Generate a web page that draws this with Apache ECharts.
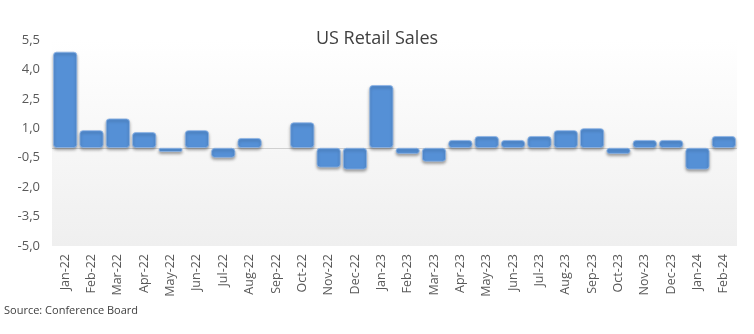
<!DOCTYPE html>
<html>
<head>
<meta charset="utf-8">
<style>
html,body{margin:0;padding:0;background:#fff;}
#c{width:754px;height:334px;}
</style>
<script src="https://cdn.jsdelivr.net/npm/echarts@6/dist/echarts.min.js"></script>
</head>
<body>
<div id="c"></div>
<script>
var categories = ["Jan-22","Feb-22","Mar-22","Apr-22","May-22","Jun-22","Jul-22","Aug-22","Sep-22","Oct-22","Nov-22","Dec-22","Jan-23","Feb-23","Mar-23","Apr-23","May-23","Jun-23","Jul-23","Aug-23","Sep-23","Oct-23","Nov-23","Dec-23","Jan-24","Feb-24"];
var values = [4.9, 0.9, 1.5, 0.8, -0.2, 0.9, -0.5, 0.5, 0, 1.3, -1.0, -1.1, 3.2, -0.3, -0.7, 0.4, 0.6, 0.4, 0.6, 0.9, 1.0, -0.3, 0.4, 0.4, -1.1, 0.6];
var yTicks = {min: -5.0, max: 5.5, interval: 1.5};
var titleText = "US Retail Sales";
var sourceText = "Source: Conference Board";

var chart = echarts.init(document.getElementById('c'), null, {renderer: 'canvas'});
var font = "'Open Sans', 'Liberation Sans', sans-serif";
var barData = values.map(function (v) {
  return v === 0 ? {value: v, itemStyle: {opacity: 0}} : v;
});
chart.setOption({
  animation: false,
  backgroundColor: '#ffffff',
  title: {
    text: titleText,
    left: 'center',
    top: 25,
    textStyle: {fontFamily: font, fontSize: 18, fontWeight: 'normal', color: '#404040'}
  },
  graphic: [{
    type: 'text',
    left: 4,
    top: 305,
    style: {text: sourceText, font: "11px " + font, fill: '#404040'}
  }],
  grid: {
    left: 52, right: 17, top: 40, bottom: 88,
    show: true,
    borderWidth: 0,
    backgroundColor: new echarts.graphic.LinearGradient(0, 0, 0, 1, [
      {offset: 0, color: '#ffffff'},
      {offset: 1, color: '#efefef'}
    ])
  },
  xAxis: {
    type: 'category',
    data: categories,
    position: 'bottom',
    axisLine: {show: false, onZero: false},
    axisTick: {show: false},
    axisLabel: {rotate: 90, margin: 8, fontFamily: font, fontSize: 12.5, color: '#595959', interval: 0}
  },
  yAxis: {
    type: 'value',
    min: yTicks.min, max: yTicks.max, interval: yTicks.interval,
    splitLine: {show: false},
    axisLine: {show: false},
    axisTick: {show: false},
    axisLabel: {
      margin: 12, fontFamily: font, fontSize: 13, color: '#595959',
      formatter: function (v) { return v.toFixed(1).replace('.', ','); }
    }
  },
  series: [{
    type: 'bar',
    data: barData,
    barCategoryGap: '9%',
    itemStyle: {
      color: '#5590d6',
      borderRadius: 3,
      borderColor: '#8fb5e6',
      borderWidth: 0.8,
      shadowColor: 'rgba(0,0,0,0.35)',
      shadowBlur: 3,
      shadowOffsetY: 2
    },
    markLine: {
      silent: true,
      symbol: 'none',
      label: {show: false},
      lineStyle: {color: '#d0d0d0', width: 1.2, type: 'solid'},
      data: [{yAxis: 0}],
      z: 1
    }
  }]
});
</script>
</body>
</html>
